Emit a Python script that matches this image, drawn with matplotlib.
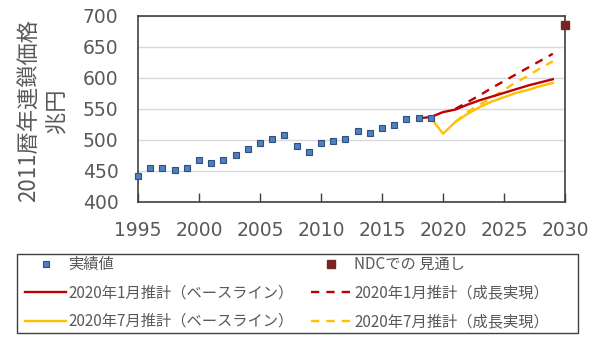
"""Real GDP outlook chart (2011 chained prices)."""
import matplotlib
matplotlib.use("Agg")
import matplotlib.pyplot as plt
from matplotlib.lines import Line2D
from matplotlib.patches import Rectangle

# --- data ---------------------------------------------------------------
actual_years = list(range(1995, 2020))
actual_values = [442, 455, 455, 452, 455, 467, 463, 468, 476, 485, 495, 502, 508,
                 490, 480, 495, 498, 502, 514, 512, 519, 524, 534, 536, 536]

ndc_year = [2030]
ndc_value = [686]

jan_base_years = list(range(2018, 2030))
jan_base_values = [535, 537, 545, 549, 557, 564, 570, 576, 582, 588, 593, 598]

jan_growth_years = list(range(2021, 2030))
jan_growth_values = [550, 561, 572, 584, 595, 606, 617, 628, 639]

jul_base_years = list(range(2019, 2030))
jul_base_values = [536, 510, 529, 542, 553, 562, 569, 576, 581, 587, 592]

jul_growth_years = list(range(2021, 2030))
jul_growth_values = [529, 545, 557, 568, 581, 593, 604, 616, 627]

x_ticks = list(range(1995, 2031, 5))
y_ticks = list(range(400, 701, 50))

labels = {
    "actual": "実績値",
    "ndc": "NDCでの 見通し",
    "jan_base": "2020年1月推計（ベースライン）",
    "jan_growth": "2020年1月推計（成長実現）",
    "jul_base": "2020年7月推計（ベースライン）",
    "jul_growth": "2020年7月推計（成長実現）",
}

# --- style --------------------------------------------------------------
plt.rcParams["font.family"] = ["Noto Sans CJK JP", "DejaVu Sans"]
TEXT_GRAY = "#595959"
RED = "#C00000"
YELLOW = "#FFC000"
DASH = (0, (3.5, 3.0))
ACT_STYLE = dict(ls="none", marker="s", ms=3.8, mfc="#4F81BD", mec="#2F4F7F", mew=0.8)
NDC_STYLE = dict(ls="none", marker="s", ms=5.5, mfc="#7B2424", mec="#7B2424")

fig = plt.figure(figsize=(6.0, 3.46), dpi=100)
ax = fig.add_axes([0.23, 0.4162, 0.7117, 0.5376])

ax.plot(jan_base_years, jan_base_values, color=RED, lw=1.7, zorder=3)
ax.plot(jan_growth_years, jan_growth_values, color=RED, lw=1.7, ls=DASH, zorder=3)
ax.plot(jul_base_years, jul_base_values, color=YELLOW, lw=1.7, zorder=2)
ax.plot(jul_growth_years, jul_growth_values, color=YELLOW, lw=1.7, ls=DASH, zorder=2)
ax.plot(actual_years, actual_values, zorder=4, clip_on=False, **ACT_STYLE)
ax.plot(ndc_year, ndc_value, zorder=4, clip_on=False, **NDC_STYLE)

ax.set_xlim(1995, 2030)
ax.set_ylim(400, 700)
ax.set_xticks(x_ticks)
ax.set_yticks(y_ticks)
ax.grid(axis="y", color="#D9D9D9", lw=1.0)
ax.set_axisbelow(True)
for spine in ax.spines.values():
    spine.set_color("#404040")
    spine.set_linewidth(1.2)

ax.tick_params(axis="x", direction="in", length=6.5, width=1.0, color="#404040",
               pad=14, labelcolor=TEXT_GRAY)
ax.tick_params(axis="y", length=0, pad=14, labelcolor=TEXT_GRAY)
for lbl in ax.get_xticklabels() + ax.get_yticklabels():
    lbl.set_family(["DejaVu Sans"])
    lbl.set_fontsize(13.5)

fig.text(0.072, 0.68, "2011暦年連鎖価格\n兆円", rotation=90, ha="center",
         va="center", fontsize=16, color=TEXT_GRAY, linespacing=1.25,
         multialignment="center")

# --- legend -------------------------------------------------------------
handles = [
    Line2D([], [], **ACT_STYLE),
    Line2D([], [], **NDC_STYLE),
    Line2D([], [], color=RED, lw=1.7),
    Line2D([], [], color=RED, lw=1.7, ls=DASH),
    Line2D([], [], color=YELLOW, lw=1.7),
    Line2D([], [], color=YELLOW, lw=1.7, ls=DASH),
]
texts = [labels["actual"], labels["ndc"], labels["jan_base"], labels["jan_growth"],
         labels["jul_base"], labels["jul_growth"]]
# reorder so that ncol=2 fills row by row
order = [0, 2, 4, 1, 3, 5]
leg = fig.legend([handles[i] for i in order], [texts[i] for i in order],
                 loc="upper left", bbox_to_anchor=(25 / 600, 1 - 256 / 346),
                 ncol=2, frameon=False, fontsize=11, borderpad=0,
                 borderaxespad=0, handlelength=2.7, handletextpad=0.15,
                 columnspacing=1.1, labelspacing=0.75, labelcolor=TEXT_GRAY)

fig.add_artist(Rectangle((16.7 / 600, 1 - 333 / 346), (577.7 - 16.7) / 600,
                         (333 - 254) / 346, transform=fig.transFigure,
                         fill=False, ec="#404040", lw=1.0))

fig.savefig("out.png", dpi=100)
